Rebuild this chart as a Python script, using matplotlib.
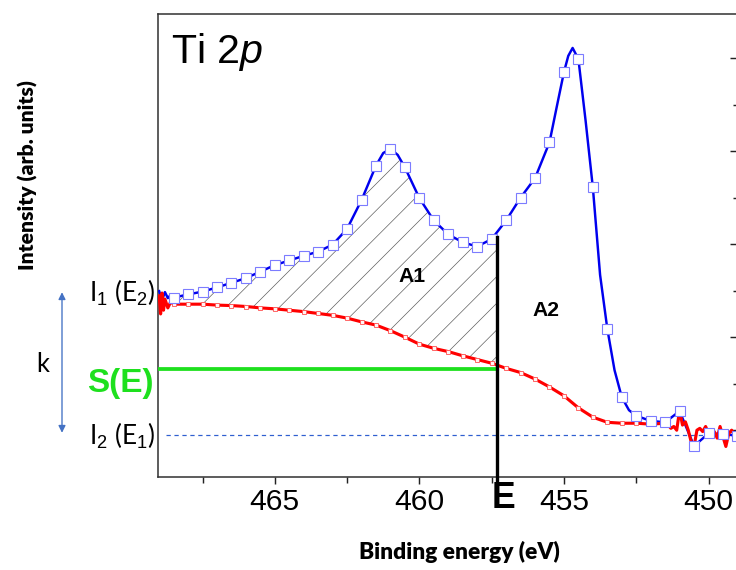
import numpy as np
import matplotlib
matplotlib.use('Agg')
import matplotlib.pyplot as plt
from matplotlib.patches import Rectangle, FancyArrowPatch

# Ti 2p spectrum with Shirley background (arb. units)
plt.rcParams['mathtext.fontset'] = 'custom'
plt.rcParams['mathtext.rm'] = 'Liberation Sans'
plt.rcParams['mathtext.it'] = 'Liberation Sans:italic'
plt.rcParams['mathtext.bf'] = 'Liberation Sans:bold'
plt.rcParams['hatch.linewidth'] = 0.6

# measured points (square markers)
blue_e = [468.5, 468.0, 467.5, 467.0, 466.5, 466.0, 465.5, 465.0, 464.5, 464.0,
          463.5, 463.0, 462.5, 462.0, 461.5, 461.0, 460.5, 460.0, 459.5, 459.0,
          458.5, 458.0, 457.5, 457.0, 456.5, 456.0, 455.5, 455.0, 454.5, 454.0,
          453.5, 453.0, 452.5, 452.0, 451.5, 451.0, 450.5, 450.0, 449.5, 449.0]
blue_y = [3.85, 3.92, 3.98, 4.07, 4.17, 4.27, 4.41, 4.55, 4.65, 4.75,
          4.84, 4.99, 5.33, 5.95, 6.69, 7.05, 6.65, 5.99, 5.51, 5.21,
          5.04, 4.95, 5.11, 5.51, 6.00, 6.42, 7.19, 8.70, 8.98, 6.22,
          3.18, 1.71, 1.31, 1.20, 1.17, 1.41, 0.66, 0.93, 0.92, 0.88]
# extra points of the drawn line (edge noise, peak tops)
blue_line_e = [469.0, 468.9, 468.8, 468.7, 468.6, 461.25, 460.75, 455.25, 454.85,
               454.7, 454.25, 453.75, 453.25, 452.75]
blue_line_y = [3.99, 3.80, 3.97, 3.84, 3.91, 6.96, 6.92, 7.95, 9.05,
               9.22, 7.65, 4.34, 2.29, 1.43]

# background (small markers)
bg_e = [468.5, 468.0, 467.5, 467.0, 466.5, 466.0, 465.5, 465.0, 464.5, 464.0,
        463.5, 463.0, 462.5, 462.0, 461.5, 461.0, 460.5, 460.0, 459.5, 459.0,
        458.5, 458.0, 457.5, 457.0, 456.5, 456.0, 455.5, 455.0, 454.5, 454.0,
        453.5, 453.0, 452.5, 452.0, 451.5]
bg_y = [3.71, 3.71, 3.71, 3.69, 3.68, 3.66, 3.63, 3.61, 3.58, 3.55,
        3.51, 3.47, 3.41, 3.33, 3.26, 3.14, 3.00, 2.85, 2.76, 2.69,
        2.60, 2.52, 2.44, 2.33, 2.24, 2.10, 1.93, 1.74, 1.48, 1.28,
        1.17, 1.15, 1.15, 1.13, 1.15]
# raw noisy ends of the background trace
noise_e = [469.0, 468.95, 468.9, 468.85, 468.8, 468.7, 468.6,
           451.4, 451.3, 451.2, 451.1, 451.0, 450.9, 450.8, 450.7, 450.6, 450.5,
           450.4, 450.3, 450.2, 450.1, 450.0, 449.9, 449.8, 449.7, 449.6, 449.5,
           449.4, 449.3, 449.2, 449.1, 449.0]
noise_y = [3.89, 3.50, 3.95, 3.58, 3.82, 3.63, 3.76,
           1.11, 1.04, 1.08, 1.00, 1.43, 1.11, 1.18, 1.00, 0.75, 0.65,
           1.00, 1.04, 0.97, 1.08, 0.93, 0.90, 0.97, 0.83, 1.08, 0.86,
           0.65, 0.93, 1.00, 0.90, 0.97]

E_cut = 457.3
S_level = 2.31
I2_level = 0.90
E_top = 5.15


def fx(x):
    return x / 736


def fy(y):
    return 1 - y / 570


fig = plt.figure(figsize=(9.2, 7.125), dpi=80)
ax = fig.add_axes([fx(158), fy(476.7), (738 - 158) / 736, (476.7 - 14) / 570])

# lines
le = np.array(blue_e + blue_line_e)
ly = np.array(blue_y + blue_line_y)
o = np.argsort(le)
ax.plot(le[o], ly[o], color='#0000ee', lw=2.2, zorder=3)

re = np.array(bg_e + noise_e)
ry = np.array(bg_y + noise_y)
o = np.argsort(re)
ax.plot(re[o], ry[o], color='#ff0000', lw=2.8, zorder=4)
ax.plot(bg_e, bg_y, ls='none', marker='s', ms=4.3, mfc='#fff4f4', mec='#ff5a5a',
        mew=0.8, zorder=5)
ax.plot(blue_e, blue_y, ls='none', marker='s', ms=8.3, mfc='white', mec='#7c7cff',
        mew=1.0, zorder=6)

# hatched area A1
n = blue_e.index(457.0) + 1
fill = ax.fill_between(blue_e[:n], blue_y[:n], bg_y[:n], facecolor='none',
                       edgecolor='#5a5a5a', hatch='/', lw=0, zorder=2)
clip = Rectangle((E_cut, -1), 20, 20, transform=ax.transData)
fill.set_clip_path(clip)

ax.plot([469.04, E_cut], [S_level, S_level], color='#1ee01e', lw=3.4, zorder=5)
ax.plot([468.75, 449.0], [I2_level, I2_level], color='#2f5fd0', lw=1.1,
        ls=(0, (3.5, 3)), zorder=1)
ax.plot([E_cut, E_cut], [-0.11, E_top], color='black', lw=3, zorder=7,
        clip_on=False)

ax.set_xlim(469.04, 448.98)
ax.set_ylim(0, 9.95)

ax.set_xticks([465, 460, 455, 450])
ax.set_xticks([467.5, 462.5, 457.5, 452.5], minor=True)
ax.set_yticks([1, 3, 5, 7, 9])
ax.set_yticks([2, 4, 6, 8], minor=True)
ax.yaxis.tick_right()
ax.tick_params(axis='y', which='both', direction='in', labelright=False,
               width=1.3, color='#222222')
ax.tick_params(axis='y', which='major', length=7)
ax.tick_params(axis='y', which='minor', length=4.5)
ax.tick_params(axis='x', which='both', direction='out', width=1.3,
               color='#222222', pad=4)
ax.tick_params(axis='x', which='major', length=6.5)
ax.tick_params(axis='x', which='minor', length=5.5)
for t in ax.get_xticklabels():
    t.set_fontfamily('Liberation Sans')
    t.set_fontsize(27)
for s in ax.spines.values():
    s.set_linewidth(1.4)
    s.set_color('#333333')
ax.spines['right'].set_visible(False)

# text
fig.text(fx(170.7), fy(63), 'Ti 2$\\it{p}$', fontsize=37, family='Liberation Sans',
         ha='left', va='baseline')
fig.text(fx(412), fy(277), 'A1', fontsize=19, fontweight='bold',
         family='Liberation Sans', ha='center', va='center')
fig.text(fx(546), fy(310), 'A2', fontsize=19, fontweight='bold',
         family='Liberation Sans', ha='center', va='center')
fig.text(fx(503), fy(498), 'E', fontsize=32, fontweight='bold',
         family='Liberation Sans', ha='center', va='center')
fig.text(fx(459), fy(552), 'Binding energy (eV)', fontsize=20.5, fontweight='heavy',
         family='Lato', ha='center', va='center')
fig.text(fx(28), fy(175), 'Intensity (arb. units)', fontsize=19, fontweight='heavy',
         family='Lato', ha='center', va='center', rotation=90)

fig.text(fx(89), fy(301.7), 'I$_1$ (E$_2$)', fontsize=23.5, family='Lato',
         ha='left', va='baseline')
fig.text(fx(89), fy(445), 'I$_2$ (E$_1$)', fontsize=23.5, family='Lato',
         ha='left', va='baseline')
fig.text(fx(42.5), fy(371.7), 'k', fontsize=23, family='Lato',
         ha='center', va='baseline')
fig.text(fx(87), fy(391.7), 'S(E)', fontsize=30, fontweight='bold',
         family='Liberation Sans', color='#1ee01e', ha='left', va='baseline')

fig.patches.append(FancyArrowPatch(
    (fx(62), fy(290)), (fx(62), fy(435)), transform=fig.transFigure,
    arrowstyle='<|-|>', mutation_scale=13, color='#4472c4', lw=1.2))

fig.savefig('out.png', dpi=80)
